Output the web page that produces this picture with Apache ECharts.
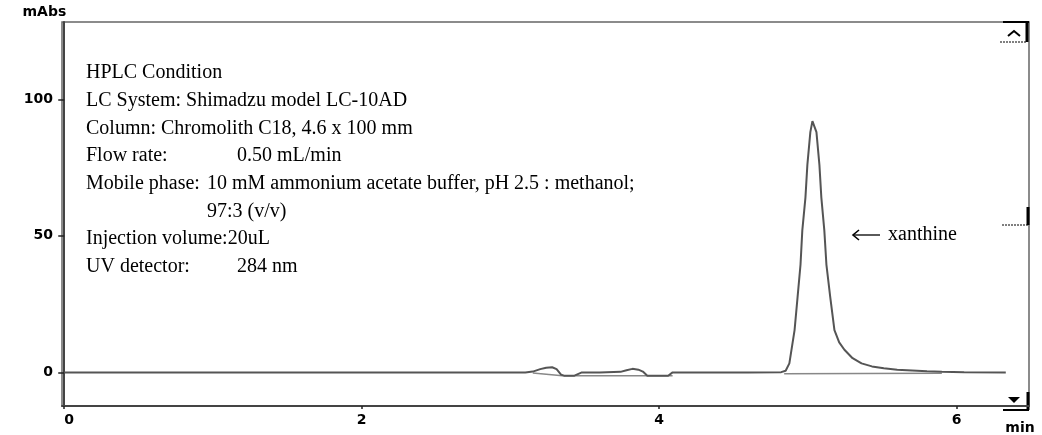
<!DOCTYPE html>
<html>
<head>
<meta charset="utf-8">
<script src="https://cdn.jsdelivr.net/npm/echarts@6/dist/echarts.min.js"></script>
<style>
  html, body { margin: 0; padding: 0; background: #fff; }
  #chart { width: 1042px; height: 435px; }
</style>
</head>
<body>
<div id="chart"></div>
<script>
// Chromatogram trace: retention time (min) and detector response (mAbs)
const retentionTime = [
  0, 3.10, 3.15, 3.20, 3.24, 3.28, 3.31, 3.34, 3.36, 3.43, 3.48, 3.60, 3.74, 3.78,
  3.82, 3.86, 3.89, 3.92, 4.06, 4.09, 4.60, 4.82, 4.85, 4.875, 4.91, 4.93, 4.95,
  4.962, 4.983, 4.996, 5.016, 5.03, 5.057, 5.077, 5.09, 5.11, 5.124, 5.15, 5.178,
  5.21, 5.245, 5.30, 5.36, 5.43, 5.51, 5.60, 5.70, 5.80, 5.90, 6.05, 6.33
];
const absorbance = [
  0, 0, 0.3, 1.2, 1.7, 1.9, 1.2, -0.8, -1.2, -1.2, 0, 0, 0.2, 0.8,
  1.3, 1.0, 0.3, -1.2, -1.2, 0, 0, 0.1, 0.6, 3.3, 15.5, 27.5, 39.5,
  52, 64, 76, 88, 92, 88, 76, 64, 52, 39.5, 27.5, 15.5,
  11.0, 8.3, 5.2, 3.3, 2.2, 1.5, 1.0, 0.7, 0.4, 0.2, 0.05, 0
];

// Integration baselines drawn under the detected peaks (null breaks segments)
const baselineTime = [3.15, 3.349, 4.09, null, 4.84, 5.90];
const baselineValue = [-0.2, -1.2, -1.2, null, -0.5, -0.3];

// Axis ticks
const timeTicks = [0, 2, 4, 6];
const responseTicks = [0, 50, 100];

// Method description block
const conditionLabels = [
  'HPLC Condition',
  'LC System: Shimadzu model LC-10AD',
  'Column: Chromolith C18, 4.6 x 100 mm',
  'Flow rate:',
  'Mobile phase:',
  '',
  'Injection volume:20uL',
  'UV detector:'
];
const conditionValues = [
  '', '', '', '0.50 mL/min',
  '10 mM ammonium acetate buffer, pH 2.5 : methanol;',
  '97:3 (v/v)', '', '284 nm'
];
const peakName = 'xanthine';

const W = 1042, H = 435;
const GRID = { left: 62, top: 22, right: 13, bottom: 25 };
const xR = W - GRID.right;   // right edge of the plot frame
const yB = H - GRID.bottom;  // bottom edge of the plot frame

const tracePoints = retentionTime.map((t, i) => [t, absorbance[i]]);
const baselinePoints = baselineTime.map((t, i) => (t === null ? [null, null] : [t, baselineValue[i]]));

const serif = '"Liberation Serif", "Times New Roman", serif';
const tickFont = { fontFamily: '"DejaVu Sans", Arial, sans-serif', fontWeight: 'bold', fontSize: 14, color: '#000' };

// Method description text, value column offsets per line
const valueX = [0, 0, 0, 237, 207, 207, 0, 237];
const textEls = [];
conditionLabels.forEach((label, i) => {
  const y = 73 + i * 27.7;
  if (label) {
    textEls.push({ type: 'text', style: { text: label, x: 86, y: y, font: '20px ' + serif, fill: '#000', textVerticalAlign: 'middle' } });
  }
  if (conditionValues[i]) {
    textEls.push({ type: 'text', style: { text: conditionValues[i], x: valueX[i], y: y, font: '20px ' + serif, fill: '#000', textVerticalAlign: 'middle' } });
  }
});

// Peak label with left arrow
const labelY = 235;
textEls.push(
  { type: 'line', shape: { x1: 853, y1: labelY, x2: 880, y2: labelY }, style: { stroke: '#000', lineWidth: 1.3 } },
  { type: 'polyline', shape: { points: [[859, labelY - 5], [853, labelY], [859, labelY + 5]] }, style: { stroke: '#000', lineWidth: 1.6, fill: null } },
  { type: 'text', style: { text: peakName, x: 888, y: labelY, font: '20px ' + serif, fill: '#000', textVerticalAlign: 'middle' } }
);

// Scroll/range markers along the right edge of the frame
const markerEls = [
  { type: 'line', shape: { x1: 1003, y1: GRID.top, x2: xR, y2: GRID.top }, style: { stroke: '#000', lineWidth: 2 } },
  { type: 'line', shape: { x1: xR - 2, y1: GRID.top, x2: xR - 2, y2: 42 }, style: { stroke: '#000', lineWidth: 3 } },
  { type: 'line', shape: { x1: 1000, y1: 42, x2: xR - 2, y2: 42 }, style: { stroke: '#000', lineWidth: 1, lineDash: [2, 1] } },
  { type: 'polyline', shape: { points: [[1008, 36], [1014, 31], [1020, 36]] }, style: { stroke: '#000', lineWidth: 2, fill: null } },
  { type: 'line', shape: { x1: xR - 1, y1: 207, x2: xR - 1, y2: 225 }, style: { stroke: '#000', lineWidth: 3 } },
  { type: 'line', shape: { x1: 1002, y1: 225, x2: xR - 1, y2: 225 }, style: { stroke: '#000', lineWidth: 1, lineDash: [2, 1] } },
  { type: 'line', shape: { x1: xR - 1, y1: 392, x2: xR - 1, y2: yB }, style: { stroke: '#000', lineWidth: 3 } },
  { type: 'line', shape: { x1: 1003, y1: yB, x2: xR, y2: yB }, style: { stroke: '#000', lineWidth: 2 } },
  { type: 'polygon', shape: { points: [[1008, 397], [1020, 397], [1014, 403]] }, style: { fill: '#000' } }
];

const chart = echarts.init(document.getElementById('chart'), null, { renderer: 'canvas' });
chart.setOption({
  animation: false,
  backgroundColor: '#fff',
  grid: {
    left: GRID.left, top: GRID.top, right: GRID.right, bottom: GRID.bottom,
    show: true, borderColor: '#666', borderWidth: 1.5, backgroundColor: 'transparent'
  },
  xAxis: {
    type: 'value',
    min: -0.015,
    max: 6.486,
    name: 'min',
    nameLocation: 'end',
    nameGap: -9,
    nameTextStyle: Object.assign({}, tickFont, { align: 'center', verticalAlign: 'top', padding: [15, 0, 0, 0] }),
    axisLine: { show: true, onZero: false, lineStyle: { color: '#444', width: 2 } },
    axisTick: { show: true, customValues: timeTicks, length: 3, lineStyle: { color: '#222', width: 1.5 } },
    axisLabel: Object.assign({ customValues: timeTicks, margin: 7, alignMinLabel: 'left' }, tickFont),
    splitLine: { show: false }
  },
  yAxis: {
    type: 'value',
    min: -12.3,
    max: 128.3,
    name: 'mAbs',
    nameLocation: 'end',
    nameGap: 3,
    nameTextStyle: Object.assign({}, tickFont, { align: 'right', padding: [0, -2, 0, 0] }),
    axisLine: { show: true, lineStyle: { color: '#444', width: 2 } },
    axisTick: { show: true, customValues: responseTicks, length: 6, lineStyle: { color: '#222', width: 1.5 } },
    axisLabel: Object.assign({ customValues: responseTicks, margin: 9 }, tickFont),
    splitLine: { show: false }
  },
  series: [
    {
      name: 'baseline',
      type: 'line',
      data: baselinePoints,
      showSymbol: false,
      connectNulls: false,
      lineStyle: { color: '#888', width: 1.5 },
      z: 2
    },
    {
      name: 'trace',
      type: 'line',
      data: tracePoints,
      showSymbol: false,
      lineStyle: { color: '#555', width: 2 },
      z: 3
    }
  ],
  graphic: { elements: textEls.concat(markerEls) }
});
</script>
</body>
</html>
